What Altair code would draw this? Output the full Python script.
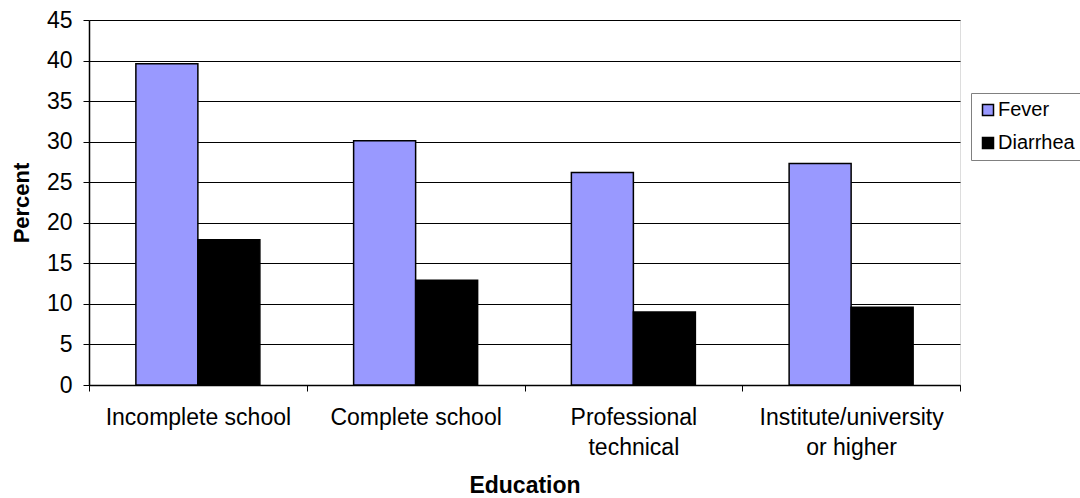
import altair as alt
import pandas as pd

# Share of children with each symptom, by mother's education
education = [
    "Incomplete school",
    "Complete school",
    "Professional\ntechnical",
    "Institute/university\nor higher",
]
fever = [39.6, 30.1, 26.2, 27.3]
diarrhea = [17.9, 12.9, 9.0, 9.6]
series = ["Fever", "Diarrhea"]
series_colors = ["#9999FF", "#000000"]

rows = []
for i, edu in enumerate(education):
    rows.append({"Education": edu, "Symptom": "Fever", "Percent": fever[i]})
    rows.append({"Education": edu, "Symptom": "Diarrhea", "Percent": diarrhea[i]})
df = pd.DataFrame(rows)

FONT = "Liberation Sans"

bars = alt.Chart(df).mark_bar(stroke="black", strokeWidth=1.5).encode(
    x=alt.X(
        "Education:N",
        sort=education,
        scale=alt.Scale(paddingInner=0, paddingOuter=0),
        axis=alt.Axis(
            title="Education",
            labelAngle=0,
            labelExpr="split(datum.label, '\\n')",
            labelFont=FONT,
            labelFontSize=23,
            labelColor="black",
            labelLineHeight=30,
            labelPadding=15,
            labelBaseline="top",
            labelLimit=400,
            tickBand="extent",
            tickSize=6,
            tickColor="black",
            domainColor="black",
            domainWidth=1.5,
            grid=False,
            titleFont=FONT,
            titleFontSize=23,
            titleFontWeight="bold",
            titleColor="black",
            titleBaseline="alphabetic",
            titleY=107,
            titleX=435.5,
        ),
    ),
    xOffset=alt.XOffset(
        "Symptom:N",
        sort=series,
        scale=alt.Scale(paddingInner=0, paddingOuter=0.756),
    ),
    y=alt.Y(
        "Percent:Q",
        scale=alt.Scale(domain=[0, 45], nice=False),
        axis=alt.Axis(
            title="Percent",
            values=list(range(0, 50, 5)),
            labelFont=FONT,
            labelFontSize=23,
            labelColor="black",
            labelPadding=11,
            tickSize=6,
            tickColor="black",
            domainColor="black",
            domainWidth=1.5,
            grid=True,
            gridColor="black",
            gridWidth=1,
            titleFont=FONT,
            titleFontSize=22,
            titleFontWeight="bold",
            titleColor="black",
            titleAngle=270,
            titleAlign="center",
            titleBaseline="alphabetic",
            titleX=-61,
            titleY=182.5,
        ),
    ),
    color=alt.Color(
        "Symptom:N",
        sort=series,
        scale=alt.Scale(domain=series, range=series_colors),
        legend=alt.Legend(
            title=None,
            orient="none",
            legendX=882,
            legendY=73,
            direction="vertical",
            symbolType="square",
            symbolSize=121,
            symbolStrokeColor="black",
            symbolStrokeWidth=1.5,
            symbolOpacity=1,
            labelFont=FONT,
            labelFontSize=20,
            labelColor="black",
            labelOffset=0,
            labelLimit=200,
            rowPadding=13,
            padding=7,
            strokeColor="#808080",
            fillColor="white",
        ),
    ),
)

chart = bars.properties(
    width=871,
    height=365,
    padding={"left": 89, "top": 20, "right": 120, "bottom": 113},
    autosize=alt.AutoSizeParams(type="none"),
).configure_view(
    stroke="#808080",
    strokeWidth=2,
).configure(background="white")

chart.save("out.html", embed_options={"renderer": "svg", "actions": False})
